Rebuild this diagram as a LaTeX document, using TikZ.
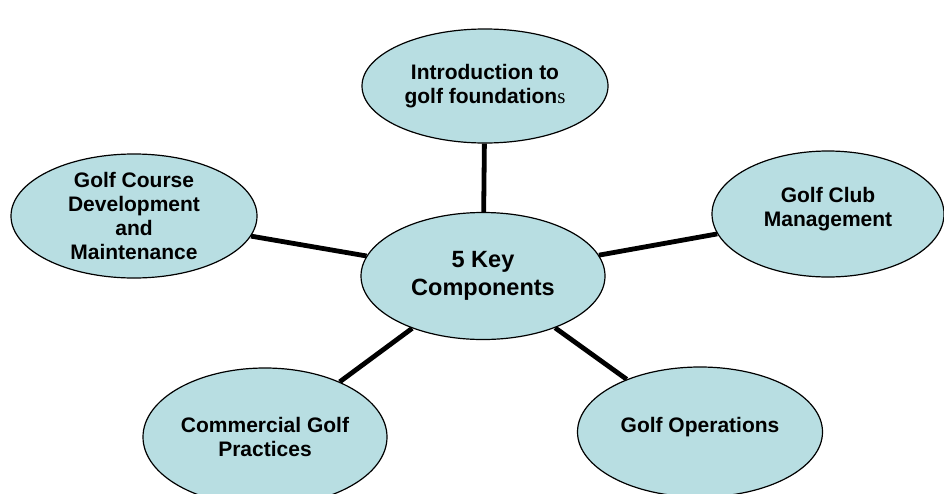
\documentclass[tikz,border=0pt]{standalone}
\usepackage{fontspec}
\setmainfont{Liberation Sans}
\newfontfamily\serifface{Liberation Serif}
\usetikzlibrary{shapes.geometric,backgrounds}
\definecolor{bubblefill}{RGB}{184,222,226}

\begin{document}
\begin{tikzpicture}[
    x=1pt, y=-1pt,
    topicnode/.style={ellipse, draw=black, line width=1.2pt, fill=bubblefill, inner sep=0pt,
        minimum width=246pt, minimum height=116pt, align=center,
        font=\fontsize{21}{24}\selectfont\bfseries},
    hubnode/.style={topicnode, minimum width=244pt, minimum height=127pt,
        font=\fontsize{23.5}{28}\selectfont\bfseries},
    spoke/.style={line width=4.8pt, black}
]
\clip (0,0) rectangle (944,493);

% Hub
\node[hubnode] (hub) at (483,276) {5 Key\\Components};

% Components around the hub
\node[topicnode, minimum height=114pt] (intro) at (485,86)
    {Introduction to\\golf foundation{\serifface\mdseries s}};
\node[topicnode, minimum height=124pt] (course) at (134,216)
    {Golf Course\\Development\\and\\Maintenance};
\node[topicnode, minimum width=232pt, minimum height=126pt, text depth=15pt] (club) at (828,214)
    {Golf Club\\Management};
\node[topicnode, minimum width=244pt, minimum height=138pt] (commercial) at (265,437)
    {Commercial Golf\\Practices};
\node[topicnode, minimum width=245pt, minimum height=130pt, text depth=15pt] (operations) at (700,432)
    {Golf Operations};

% Spokes
\begin{scope}[on background layer]
\foreach \target in {intro, course, club, commercial, operations} {
    \draw[spoke] (hub) -- (\target);
}
\end{scope}

\end{tikzpicture}
\end{document}
